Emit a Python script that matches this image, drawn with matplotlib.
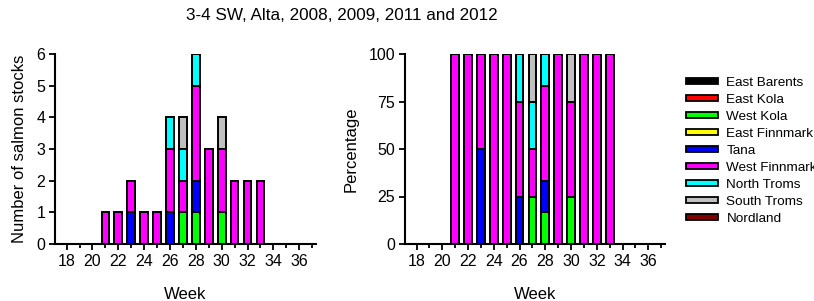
import numpy as np
import matplotlib
matplotlib.use("Agg")
import matplotlib.pyplot as plt
from matplotlib.patches import Patch

plt.rcParams['font.family'] = ['Liberation Sans', 'DejaVu Sans']

# weeks 18..37
weeks = np.arange(18, 38)
stocks = ["East Barents", "East Kola", "West Kola", "East Finnmark", "Tana",
          "West Finnmark", "North Troms", "South Troms", "Nordland"]
colors = ["#000000", "#FF0000", "#00FF00", "#FFFF00", "#0000FF",
          "#FF00FF", "#00FFFF", "#C0C0C0", "#800000"]

#                 18 19 20 21 22 23 24 25 26 27 28 29 30 31 32 33 34 35 36 37
east_barents  = [0, 0, 0, 0, 0, 0, 0, 0, 0, 0, 0, 0, 0, 0, 0, 0, 0, 0, 0, 0]
east_kola     = [0, 0, 0, 0, 0, 0, 0, 0, 0, 0, 0, 0, 0, 0, 0, 0, 0, 0, 0, 0]
west_kola     = [0, 0, 0, 0, 0, 0, 0, 0, 0, 1, 1, 0, 1, 0, 0, 0, 0, 0, 0, 0]
east_finnmark = [0, 0, 0, 0, 0, 0, 0, 0, 0, 0, 0, 0, 0, 0, 0, 0, 0, 0, 0, 0]
tana          = [0, 0, 0, 0, 0, 1, 0, 0, 1, 0, 1, 0, 0, 0, 0, 0, 0, 0, 0, 0]
west_finnmark = [0, 0, 0, 1, 1, 1, 1, 1, 2, 1, 3, 3, 2, 2, 2, 2, 0, 0, 0, 0]
north_troms   = [0, 0, 0, 0, 0, 0, 0, 0, 1, 1, 1, 0, 0, 0, 0, 0, 0, 0, 0, 0]
south_troms   = [0, 0, 0, 0, 0, 0, 0, 0, 0, 1, 0, 0, 1, 0, 0, 0, 0, 0, 0, 0]
nordland      = [0, 0, 0, 0, 0, 0, 0, 0, 0, 0, 0, 0, 0, 0, 0, 0, 0, 0, 0, 0]

counts = np.array([east_barents, east_kola, west_kola, east_finnmark, tana,
                   west_finnmark, north_troms, south_troms, nordland], dtype=float)
totals = counts.sum(axis=0)
pct = np.divide(counts * 100, totals, out=np.zeros_like(counts), where=totals > 0)

W, H = 814, 301
fig = plt.figure(figsize=(W / 100, H / 100), dpi=100)

def ax_at(x0, y0, x1, y1):
    return fig.add_axes([x0 / W, 1 - y1 / H, (x1 - x0) / W, (y1 - y0) / H])

ax1 = ax_at(55, 54, 316, 244)
ax2 = ax_at(405, 54, 665, 244)

fs = 11.5
for ax, data, ylim, yticks, ylabel in [
        (ax1, counts, 6, range(0, 7), "Number of salmon stocks"),
        (ax2, pct, 100, range(0, 101, 25), "Percentage")]:
    bottom = np.zeros(len(weeks))
    for row, col in zip(data, colors):
        mask = row > 0
        ax.bar(weeks[mask], row[mask], bottom=bottom[mask], width=0.6,
               color=col, edgecolor="black", linewidth=1.4, zorder=2)
        bottom += row
    ax.set_xlim(17.1, 37.3)
    ax.set_ylim(0, ylim)
    ax.set_yticks(list(yticks))
    ax.set_xticks(np.arange(18, 37, 2))
    ax.set_xticks(np.arange(18, 38), minor=True)
    for s in ["top", "right"]:
        ax.spines[s].set_visible(False)
    for s in ["left", "bottom"]:
        ax.spines[s].set_linewidth(1.5)
        ax.spines[s].set_zorder(3)
    ax.tick_params(axis="both", which="both", direction="out", length=4,
                   width=1.3, labelsize=fs, pad=3)
    ax.tick_params(axis="x", which="minor", length=3)
    ax.set_xlabel("Week", fontsize=12, labelpad=13)
    ax.set_ylabel(ylabel, fontsize=12, labelpad=7)

fig.text(342 / W, 1 - 15 / H, "3-4 SW, Alta, 2008, 2009, 2011 and 2012",
         ha="center", va="center", fontsize=12.3)

handles = [Patch(facecolor=c, edgecolor="black", linewidth=1.3) for c in colors]
fig.legend(handles, stocks, loc="upper left", bbox_to_anchor=(686 / W, 1 - 77 / H),
           frameon=False, fontsize=9.7, handlelength=2.4, handleheight=0.35,
           handletextpad=0.6, labelspacing=0.37, borderpad=0, borderaxespad=0)

fig.savefig("out.png", dpi=100)
